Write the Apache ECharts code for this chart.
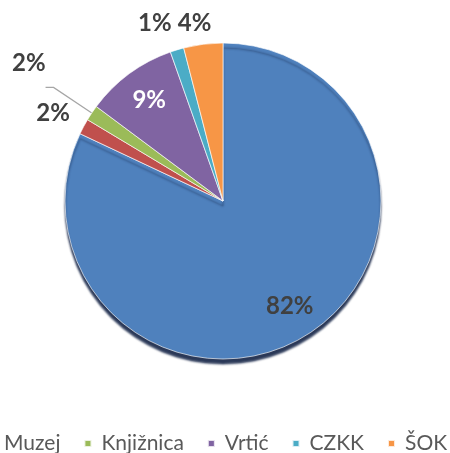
<!DOCTYPE html>
<html>
<head>
<meta charset="utf-8">
<script src="https://cdn.jsdelivr.net/npm/echarts@6/dist/echarts.min.js"></script>
<style>
  html, body { margin: 0; padding: 0; background: #fff; }
  #chart { width: 450px; height: 453px; }
</style>
</head>
<body>
<div id="chart"></div>
<script>
// slice names (the first one is not visible in the legend of the original)
const categories = ["Ostalo", "Muzej", "Knjižnica", "Vrtić", "CZKK", "ŠOK"];
const shares = [82.0, 1.6, 1.6, 9.4, 1.4, 4.0];
const colors = ["#4F81BD", "#C0504D", "#9BBB59", "#8064A2", "#4BACC6", "#F79646"];
const legendNames = ["Muzej", "Knjižnica", "Vrtić", "CZKK", "ŠOK"];

const labelFont = {
  fontFamily: "Lato",
  fontWeight: "bold",
  fontSize: 24,
};

const chartDom = document.getElementById("chart");
const myChart = echarts.init(chartDom);

// outside labels: per slice line lengths
const outside = {
  1: { length: 29, length2: 0, line: false },
  2: { length: 46, length2: 8, line: true },
  4: { length: 28, length2: 9, line: false },
  5: { length: 21, length2: 1, line: false },
};

const mainData = categories.map(function (name, i) {
  const item = {
    name: name,
    value: shares[i],
    itemStyle: { color: colors[i] },
  };
  if (i === 0) {
    item.itemStyle.shadowColor = "rgba(20, 35, 70, 0.9)";
    item.itemStyle.shadowOffsetY = 5;
    item.itemStyle.shadowBlur = 2;
  }
  if (outside[i]) {
    item.label = { show: true, position: "outside" };
    item.labelLine = {
      show: outside[i].line,
      length: outside[i].length,
      length2: outside[i].length2,
    };
  } else {
    item.label = { show: false };
    item.labelLine = { show: false };
  }
  return item;
});

// transparent copy used only to place the inside labels further out
const innerData = categories.map(function (name, i) {
  return {
    name: name,
    value: shares[i],
    itemStyle: { color: "rgba(0,0,0,0)", borderWidth: 0 },
    label: {
      show: i === 0 || i === 3,
      color: i === 3 ? "#ffffff" : "#404040",
    },
  };
});

const option = {
  animation: false,
  legend: {
    data: legendNames,
    left: -19,
    top: 428,
    width: 800,
    icon: "rect",
    itemWidth: 7,
    itemHeight: 7,
    itemGap: 23,
    selectedMode: false,
    textStyle: {
      fontFamily: "Lato",
      fontSize: 21,
      color: "#595959",
      padding: [0, 0, 0, 5],
    },
  },
  series: [
    {
      name: "main",
      type: "pie",
      center: [223, 201],
      radius: 158,
      startAngle: 90,
      clockwise: true,
      avoidLabelOverlap: false,
      silent: true,
      itemStyle: {
        borderColor: "rgba(255,255,255,0.8)",
        borderWidth: 0.8,
      },
      label: Object.assign(
        {
          color: "#404040",
          distanceToLabelLine: 5,
          formatter: function (p) {
            return Math.round(p.percent) + "%";
          },
        },
        labelFont
      ),
      labelLine: {
        lineStyle: { color: "#a6a6a6", width: 1.3 },
      },
      labelLayout: function (p) {
        if (p.dataIndex === 2) {
          return { verticalAlign: "bottom", dx: 5, dy: -12 };
        }
        return { align: "center" };
      },
      data: mainData,
    },
    {
      name: "inner",
      type: "pie",
      center: [223, 201],
      radius: 243,
      startAngle: 90,
      clockwise: true,
      silent: true,
      z: 3,
      label: Object.assign(
        {
          position: "inside",
          formatter: function (p) {
            return Math.round(p.percent) + "%";
          },
        },
        labelFont
      ),
      labelLine: { show: false },
      data: innerData,
    },
  ],
};

myChart.setOption(option);
</script>
</body>
</html>
